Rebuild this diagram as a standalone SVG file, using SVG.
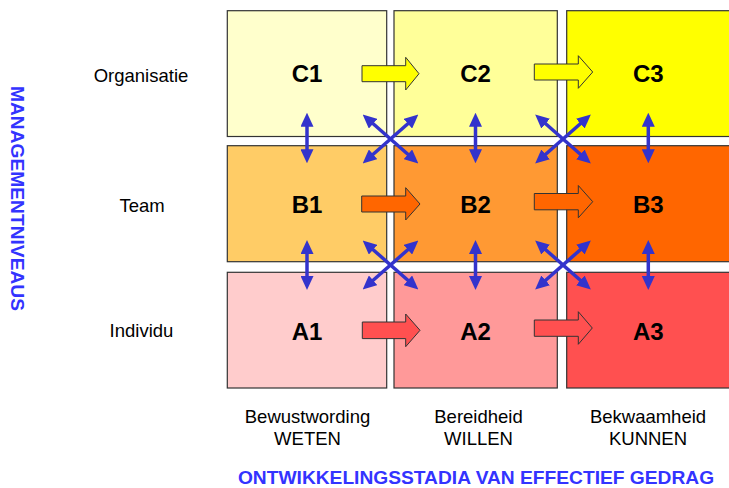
<svg xmlns="http://www.w3.org/2000/svg" width="729" height="488" viewBox="0 0 729 488">
<defs>
<style>
.cell{stroke:#333;stroke-width:1.2}
.lbl{font-family:"Liberation Sans",Arial,sans-serif;font-weight:bold;font-size:24px;fill:#000;text-anchor:middle}
.txt{font-family:"Liberation Sans",Arial,sans-serif;font-size:18.5px;fill:#000;text-anchor:middle}
.ttl{font-family:"Liberation Sans",Arial,sans-serif;font-weight:bold;font-size:19.2px;fill:#3333FF;text-anchor:middle}
.blk{stroke:#333;stroke-width:1}
.ba{stroke:#3333CC;stroke-width:3.5;fill:none;marker-start:url(#ah);marker-end:url(#ah)}
</style>
<marker id="ah" markerUnits="userSpaceOnUse" markerWidth="14" markerHeight="13" refX="3" refY="6.5" orient="auto-start-reverse" viewBox="0 0 14 13">
<path d="M0,0 L14,6.5 L0,13 z" fill="#3333CC"/>
</marker>
</defs>
<rect width="729" height="488" fill="#fff"/>
<g id="C1"><rect class="cell" x="227.3" y="10.7" width="159.4" height="125.8" fill="#FFFFCC"/><text class="lbl" x="307" y="82">C1</text></g>
<g id="C2"><rect class="cell" x="394" y="10.7" width="163.3" height="125.8" fill="#FFFF99"/><text class="lbl" x="475.5" y="82">C2</text></g>
<g id="C3"><rect class="cell" x="566.7" y="10.7" width="170" height="125.8" fill="#FFFF00"/><text class="lbl" x="648.3" y="82">C3</text></g>
<g id="B1"><rect class="cell" x="227.3" y="145.7" width="159.4" height="116" fill="#FFCC66"/><text class="lbl" x="307" y="212.5">B1</text></g>
<g id="B2"><rect class="cell" x="394" y="145.7" width="163.3" height="116" fill="#FF9933"/><text class="lbl" x="475.5" y="212.5">B2</text></g>
<g id="B3"><rect class="cell" x="566.7" y="145.7" width="170" height="116" fill="#FF6600"/><text class="lbl" x="648.3" y="212.5">B3</text></g>
<g id="A1"><rect class="cell" x="227.3" y="272.3" width="159.4" height="115.7" fill="#FFCCCC"/><text class="lbl" x="307" y="340">A1</text></g>
<g id="A2"><rect class="cell" x="394" y="272.3" width="163.3" height="115.7" fill="#FF9999"/><text class="lbl" x="475.5" y="340">A2</text></g>
<g id="A3"><rect class="cell" x="566.7" y="272.3" width="170" height="115.7" fill="#FF5050"/><text class="lbl" x="648.3" y="340">A3</text></g>
<g id="connectors">
<polygon class="blk" fill="#FFFF00" points="362,65.7 405.7,65.7 405.7,57.3 419,73.7 405.7,90 405.7,81.7 362,81.7"/>
<polygon class="blk" fill="#FFFF00" points="534.3,64 578.3,64 578.3,55.7 592.7,72 578.3,88.3 578.3,80 534.3,80"/>
<polygon class="blk" fill="#FF6600" points="361.7,196 405.7,196 405.7,187.7 420,204 405.7,220 405.7,212 361.7,212"/>
<polygon class="blk" fill="#FF6600" points="534.3,193.5 578.3,193.5 578.3,185.5 592.7,201.7 578.3,217.8 578.3,209.8 534.3,209.8"/>
<polygon class="blk" fill="#FF5050" points="362.3,322 405.7,322 405.7,314 420,330.3 405.7,346.7 405.7,338.6 362.3,338.6"/>
<polygon class="blk" fill="#FF5050" points="534.3,320 578.3,320 578.3,311.7 592.3,328 578.3,344.3 578.3,336.3 534.3,336.3"/>
<line class="ba" x1="307" y1="123.7" x2="307" y2="152.3"/>
<line class="ba" x1="475.5" y1="123.7" x2="475.5" y2="152.3"/>
<line class="ba" x1="648.3" y1="123.7" x2="648.3" y2="152.3"/>
<line class="ba" x1="307" y1="251" x2="307" y2="279"/>
<line class="ba" x1="475.5" y1="251" x2="475.5" y2="279"/>
<line class="ba" x1="648.3" y1="251" x2="648.3" y2="279"/>
<line class="ba" x1="370.9" y1="121.7" x2="410.1" y2="156.3"/>
<line class="ba" x1="410.1" y1="121.7" x2="370.9" y2="156.3"/>
<line class="ba" x1="543.4" y1="121.7" x2="582.6" y2="156.3"/>
<line class="ba" x1="582.6" y1="121.7" x2="543.4" y2="156.3"/>
<line class="ba" x1="370.9" y1="247.7" x2="410.1" y2="282.3"/>
<line class="ba" x1="410.1" y1="247.7" x2="370.9" y2="282.3"/>
<line class="ba" x1="543.4" y1="247.7" x2="582.6" y2="282.3"/>
<line class="ba" x1="582.6" y1="247.7" x2="543.4" y2="282.3"/>
</g>
<g id="labels">
<text class="txt" x="141" y="81.5">Organisatie</text>
<text class="txt" x="142" y="211.5">Team</text>
<text class="txt" x="141.5" y="336.5">Individu</text>
<text class="txt" x="307.5" y="423">Bewustwording</text>
<text class="txt" x="307.5" y="445">WETEN</text>
<text class="txt" x="478.5" y="423">Bereidheid</text>
<text class="txt" x="478.5" y="445">WILLEN</text>
<text class="txt" x="648" y="423">Bekwaamheid</text>
<text class="txt" x="648" y="445">KUNNEN</text>
<text class="ttl" x="476" y="484">ONTWIKKELINGSSTADIA VAN EFFECTIEF GEDRAG</text>
<text class="ttl" transform="translate(11,198.5) rotate(90)" x="0" y="0">MANAGEMENTNIVEAUS</text>
</g>
</svg>
